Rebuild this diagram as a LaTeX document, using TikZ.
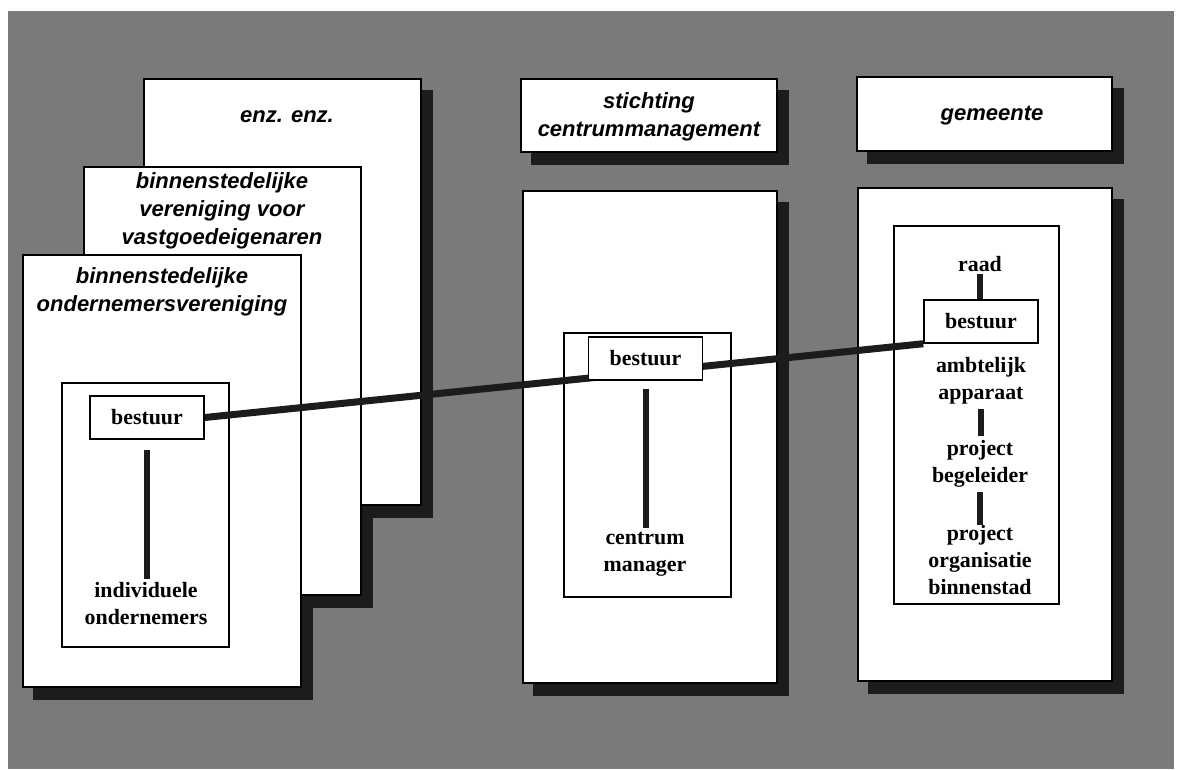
\documentclass[tikz,border=0pt]{standalone}
\usepackage{fontspec}
\newfontfamily\hsans{Liberation Sans}
\newfontfamily\tserif{Liberation Serif}
\usetikzlibrary{fit}
\pgfdeclarelayer{back}
\pgfdeclarelayer{shade}
\pgfdeclarelayer{front}
\pgfsetlayers{back,shade,main,front}
\definecolor{bgc}{gray}{0.48}
\definecolor{shc}{gray}{0.11}
\tikzset{
  sheet/.style={draw=black, line width=1.1pt, fill=white, inner sep=0pt},
  shadefill/.style={fill=shc},
  title/.style={font=\hsans\bfseries\itshape\fontsize{16.5pt}{21pt}\selectfont, align=center, inner sep=0pt},
  lab/.style={font=\tserif\bfseries\fontsize{16.4pt}{20.25pt}\selectfont, align=center, inner sep=0pt},
  bbox/.style={draw=black, line width=1.1pt, fill=white, minimum width=85.5pt, minimum height=32.25pt, inner sep=0pt, font=\tserif\bfseries\fontsize{16.4pt}{20.25pt}\selectfont},
  vline/.style={line width=4.5pt, draw=shc},
  link/.style={line width=5.25pt, draw=shc},
}
\begin{document}
\begin{tikzpicture}[x=0.75pt,y=-0.75pt]
\begin{pgfonlayer}{back}
  \fill[white] (0,0) rectangle (1182,769);
  \fill[bgc] (8,11) rectangle (1174,769);
\end{pgfonlayer}
\useasboundingbox (0,0) rectangle (1182,769);

% stacked sheets (left column)
\node[sheet, fit={(144,79) (421,505)}] (s3) {};
\node[sheet, fit={(84,167) (361,595)}] (s2) {};
\node[sheet, fit={(23,255) (301,687)}] (s1) {};
\node[sheet, fit={(62,383) (229,647)}] (i1) {};

% middle column
\node[sheet, fit={(521,79) (777,152)}] (h1) {};
\node[sheet, fit={(523,191) (777,683)}] (m1) {};
\node[sheet, fit={(564,333) (731,597)}] (i2) {};

% right column
\node[sheet, fit={(857,77) (1112,151)}] (h2) {};
\node[sheet, fit={(858,188) (1112,681)}] (m2) {};
\node[sheet, fit={(894,226) (1059,604)}] (i3) {};

% shadows
\begin{pgfonlayer}{shade}
  \foreach \n in {s3,s2,s1,h1,m1,h2,m2}
    \fill[shadefill] ([xshift=8.25pt,yshift=-9pt]\n.north west) rectangle ([xshift=8.25pt,yshift=-9pt]\n.south east);
\end{pgfonlayer}

% titles
\node[title] (t3) at (287,117) {enz. enz.};
\node[title] (t2) at (222,211) {binnenstedelijke\\vereniging voor\\vastgoedeigenaren};
\node[title] (t1) at (162,292) {binnenstedelijke\\ondernemersvereniging};
\node[title] (th1) at (649,117) {stichting\\centrummanagement};
\node[title] (th2) at (992,116) {gemeente};

% bestuur boxes on top
\begin{pgfonlayer}{front}
  \node[bbox] (lb) at (147,417.5) {bestuur};
  \node[bbox] (mb) at (645.5,358.5) {bestuur};
  \node[bbox] (rb) at (981,321.5) {bestuur};
\end{pgfonlayer}

% labels
\node[lab] (ind) at (146,604) {individuele\\ondernemers};
\node[lab] (cm) at (645,554) {centrum\\manager};
\node[lab] (raad) at (980,264) {raad};
\node[lab] (amb) at (981,381) {ambtelijk\\apparaat};
\node[lab] (pb) at (980,464) {project\\begeleider};
\node[lab] (pob) at (980,560) {project\\organisatie\\binnenstad};

% connectors
\draw[link] (lb.east) -- (rb.south west);
\draw[vline] ([yshift=-7.5pt]lb.south) -- ([yshift=3pt]lb.south |- ind.north);
\draw[vline] ([yshift=-6pt]mb.south) -- ([yshift=3pt]mb.south |- cm.north);
\draw[vline] ([yshift=-1.5pt]raad.south) -- (raad.south |- rb.north);
\draw[vline] ([yshift=-3pt]amb.south) -- ([yshift=3pt]amb.south |- pb.north);
\draw[vline] ([yshift=-3pt]pb.south) -- (pb.south |- pob.north);
\end{tikzpicture}
\end{document}
